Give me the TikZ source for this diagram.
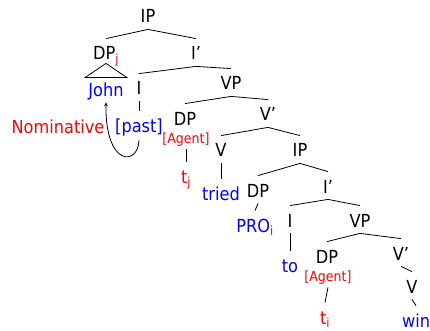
\documentclass[tikz,border=0pt]{standalone}
\usepackage{fontspec}
\setmainfont{DejaVu Sans Condensed}
\usetikzlibrary{shapes,arrows,positioning}

\begin{document}
\begin{tikzpicture}[x=1pt,y=-1pt,line width=0.8pt,
    every node/.style={inner sep=0pt,anchor=base,text height=13pt,text depth=0pt,
      font=\fontsize{18}{20}\selectfont},
    small/.style={font=\fontsize{14}{16}\selectfont}]
        \useasboundingbox (0,0) rectangle (430,331);
        % upper clause
        \node (ip) at (148,23) {IP};
        \node (dpj) at (106,60) {DP\textsubscript{\color{red}j}};
        \node (ibar) at (196,60) {I’};
        \node[blue] (john) at (106,97) {John};
        \node (i) at (139,95) {I};
        \node (vp) at (231,90) {VP};
        \node[blue] (past) at (139,132) {[past]};
        \node[red] (nom) at (58,134) {Nominative};
        \node (dp) at (185,125) {DP};
        \node[small,red] (agent) at (186,143) {[Agent]};
        \node (vbar) at (268,121) {V’};
        \node (v) at (221,157) {V};
        \node[red] (tj) at (186,183) {t\textsubscript{j}};
        \node[blue] (tried) at (221,200) {tried};
        % lower clause
        \node (ip2) at (300,157) {IP};
        \node (dp2) at (258,197) {DP};
        \node (ibar2) at (328,193) {I’};
        \node[blue] (pro) at (255,232) {PRO\textsubscript{\color{red}i}};
        \node (i2) at (290,227) {I};
        \node (vp2) at (360,227) {VP};
        \node[blue] (to) at (290,272) {to};
        \node (dp3) at (327,263) {DP};
        \node[small,red] (agent2) at (328,281) {[Agent]};
        \node[red] (ti) at (325,324) {t\textsubscript{i}};
        \node (vbar2) at (401,260) {V’};
        \node (v2) at (412,293) {V};
        \node[blue] (win) at (416,327) {win};
        % branches
        \foreach \a/\b in {ip/dpj,ip/ibar,ibar/i,ibar/vp,vp/dp,vp/vbar,vbar/v,vbar/ip2,
            ip2/dp2,ip2/ibar2,ibar2/i2,ibar2/vp2,vp2/dp3,vp2/vbar2,i/past,agent/tj,
            v/tried,dp2/pro,i2/to,agent2/ti,vbar2/v2,v2/win}
          \draw ([yshift=-6pt]\a.south) -- ([yshift=8pt]\b.north);
        \draw ([yshift=-3pt]dpj.south) -- ([shift={(-21pt,6pt)}]john.north)
          -- ([shift={(21pt,6pt)}]john.north) -- cycle;
        % case arrow
        \draw[-stealth] ([yshift=-8pt]past.south) .. controls +(-1,26) and +(-1,64) .. ([yshift=-5pt]john.south);
      \end{tikzpicture}
\end{document}
